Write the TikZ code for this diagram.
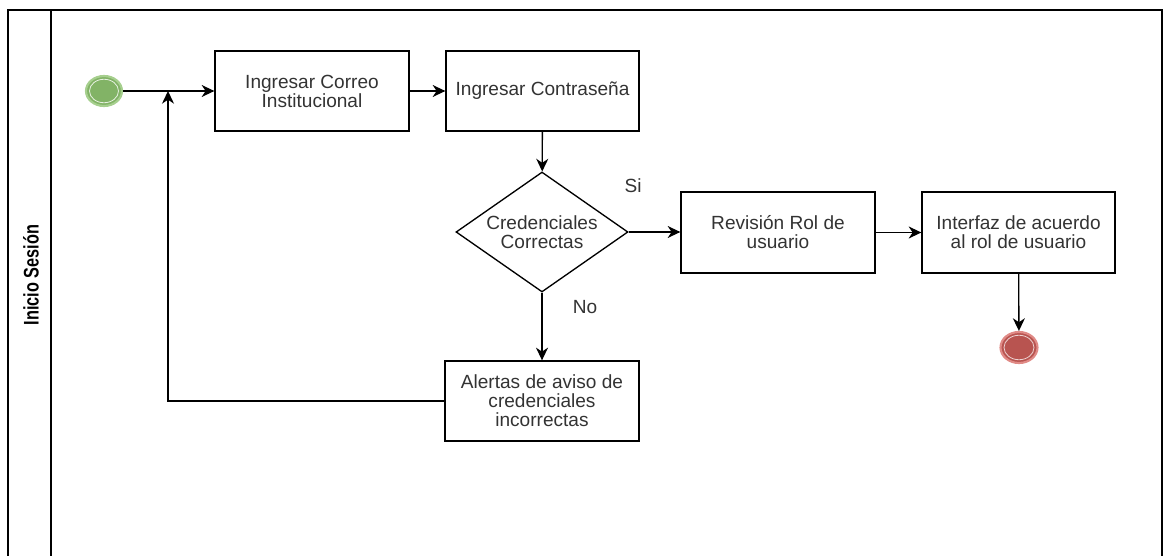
\documentclass[tikz,border=0pt]{standalone}
\usepackage{fontspec}
\setmainfont{Liberation Sans}
\usetikzlibrary{shapes.geometric,arrows.meta}
\definecolor{txt}{HTML}{333333}
\definecolor{gfill}{HTML}{82B366}
\definecolor{gring}{HTML}{A6CF8E}
\definecolor{rfill}{HTML}{B85450}
\definecolor{rring}{HTML}{E08A86}
\begin{document}
\begin{tikzpicture}[x=0.75pt,y=-0.75pt,
  every node/.style={font=\fontsize{14.3}{14.2}\selectfont, text=txt},
  box/.style={draw=black, line width=1pt, rectangle, align=center, inner sep=0pt,
    minimum width={194*0.75pt}, minimum height={80*0.75pt}},
  decision/.style={draw=black, line width=1pt, diamond, align=center, inner sep=0pt,
    shape aspect=1.43, minimum width={172*0.75pt}, minimum height={120*0.75pt}},
  ev/.style={ellipse, inner sep=0pt, line width=1.6pt},
  flow/.style={draw=black, line width=1pt, -{Stealth[length=9.5pt,width=9pt,inset=3pt]}},
  lbl/.style={inner sep=0pt}
]
\useasboundingbox (0,0) rectangle (1163,556);
% lane frame
\draw[line width=1pt] (8,556) -- (8,10) -- (1162,10) -- (1162,556);
\draw[line width=1pt] (51,10) -- (51,556);
\node[rotate=90, inner sep=0pt] (lane) at (31,275) {\scalebox{1}[1.3]{\fontsize{12.2}{13}\selectfont\bfseries\color{black}Inicio Sesión}};

% events
\node[ev, draw=gring, fill=gfill, minimum width={36*0.75pt}, minimum height={30*0.75pt}] (start) at (104,91) {};
\node[ev, draw=white!80!gfill, line width=0.6pt, minimum width={29*0.75pt}, minimum height={23.5*0.75pt}] (startin) at (104,91) {};
\node[ev, draw=rring, fill=rfill, minimum width={37*0.75pt}, minimum height={31*0.75pt}] (end) at (1019,347.5) {};
\node[ev, draw=white!75!rfill, line width=0.6pt, minimum width={30*0.75pt}, minimum height={24.5*0.75pt}] (endin) at (1019,347.5) {};

% boxes
\node[box] (b1) at (312,91) {Ingresar Correo\\Institucional};
\node[box, minimum width={193*0.75pt}] (b2) at (542.5,91) {Ingresar Contraseña};
\node[decision] (dia) at (542,232) {Credenciales\\Correctas};
\node[box, minimum height={81*0.75pt}] (rev) at (778,232.5) {Revisión Rol de\\usuario};
\node[box, minimum width={193*0.75pt}, minimum height={81*0.75pt}] (intf) at (1018.5,232.5) {Interfaz de acuerdo\\al rol de usuario};
\node[box] (alert) at (542,401) {Alertas de aviso de\\credenciales\\incorrectas};

% labels
\node[lbl] (si) at (633,186) {Si};
\node[lbl] (no) at (585,307) {No};

% connectors
\coordinate (join) at (168,91);
\draw[flow] (start) -- (b1);
\draw[flow] (b1) -- (b2);
\draw[flow] (b2) -- (dia);
\draw[flow] (dia.east) -- (rev.west |- dia.east);
\draw[flow] (rev) -- (intf);
\draw[flow] (intf) -- (end);
\draw[flow] (dia.south) -- (alert.north);
\draw[flow] (alert.west) -| (join);
\end{tikzpicture}
\end{document}
